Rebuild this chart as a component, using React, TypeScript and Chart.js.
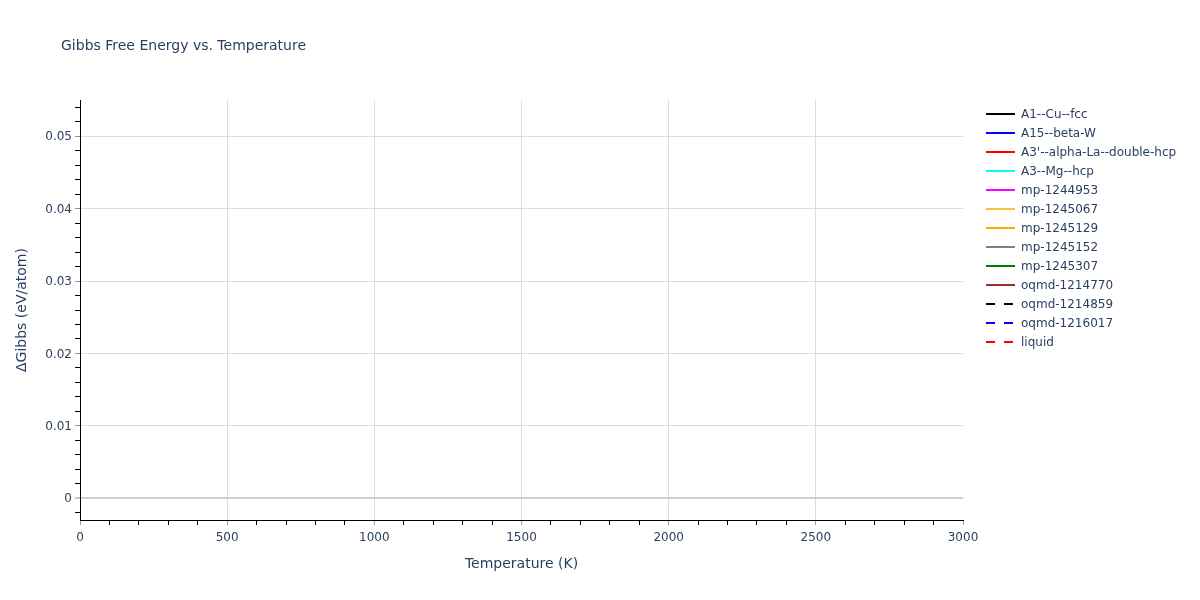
import React, { useEffect, useRef } from "react";
import { Chart, registerables, Plugin } from "chart.js";

Chart.register(...registerables);

// Phases shown in the legend. No curves are visible in the picture,
// so every series is empty.
const phaseNames = [
  "A1--Cu--fcc",
  "A15--beta-W",
  "A3'--alpha-La--double-hcp",
  "A3--Mg--hcp",
  "mp-1244953",
  "mp-1245067",
  "mp-1245129",
  "mp-1245152",
  "mp-1245307",
  "oqmd-1214770",
  "oqmd-1214859",
  "oqmd-1216017",
  "liquid",
];
const phaseColors = [
  "#000000",
  "#0000ff",
  "#ff0000",
  "#00ffff",
  "#ff00ff",
  "#f0c43c",
  "#ffa500",
  "#808080",
  "#008000",
  "#a52a2a",
  "#000000",
  "#0000ff",
  "#ff0000",
];
const phaseDashed = [false, false, false, false, false, false, false, false, false, false, true, true, true];

const temperatures: number[] = [];
const gibbsValues: number[][] = phaseNames.map(() => []);

const xMajorTicks = [0, 500, 1000, 1500, 2000, 2500, 3000];
const yMajorTicks = [0, 0.01, 0.02, 0.03, 0.04, 0.05];
const xMinorStep = 100;
const yMinorStep = 0.002;

const TEXT = "#2a3f5f";
const FONT = "'DejaVu Sans', Verdana, sans-serif";

const near = (a: number, b: number) => Math.abs(a - b) < 1e-9;
const isMajor = (v: number, list: number[]) => list.some((m) => near(m, v));

const titleLegendPlugin: Plugin = {
  id: "titleLegend",
  afterDraw(chart) {
    const ctx = chart.ctx;
    ctx.save();
    ctx.fillStyle = TEXT;
    ctx.textBaseline = "middle";
    ctx.textAlign = "left";
    ctx.font = `14px ${FONT}`;
    ctx.fillText("Gibbs Free Energy vs. Temperature", 61, 46);

    ctx.font = `12px ${FONT}`;
    chart.data.datasets.forEach((ds, i) => {
      const y = 114 + i * 19;
      ctx.beginPath();
      ctx.strokeStyle = ds.borderColor as string;
      ctx.lineWidth = 2;
      ctx.setLineDash(((ds as any).borderDash as number[]) || []);
      ctx.moveTo(986, y);
      ctx.lineTo(1015, y);
      ctx.stroke();
      ctx.setLineDash([]);
      ctx.fillStyle = TEXT;
      ctx.fillText(ds.label as string, 1021, y + 0.5);
    });
    ctx.restore();
  },
};

function GibbsChart() {
  const canvasRef = useRef<HTMLCanvasElement | null>(null);

  useEffect(() => {
    if (!canvasRef.current) return;

    const chart = new Chart(canvasRef.current, {
      type: "line",
      data: {
        labels: temperatures,
        datasets: phaseNames.map((name, i) => ({
          label: name,
          data: gibbsValues[i].map((g, j) => ({ x: temperatures[j], y: g })),
          borderColor: phaseColors[i],
          backgroundColor: phaseColors[i],
          borderWidth: 2,
          borderDash: phaseDashed[i] ? [9, 9] : [],
          pointRadius: 0,
          fill: false,
        })),
      },
      options: {
        animation: false,
        responsive: true,
        maintainAspectRatio: false,
        devicePixelRatio: 1,
        layout: { padding: { left: 8, top: 100, right: 237, bottom: 20 } },
        plugins: {
          legend: { display: false },
          title: { display: false },
          tooltip: { enabled: false },
        },
        scales: {
          x: {
            type: "linear",
            min: 0,
            max: 3000,
            afterFit: (scale) => {
              scale.height = 60;
            },
            afterBuildTicks: (scale) => {
              const ticks = [];
              for (let v = 0; v <= 3000; v += xMinorStep) ticks.push({ value: v });
              scale.ticks = ticks;
            },
            ticks: {
              autoSkip: false,
              maxRotation: 0,
              padding: 6,
              color: TEXT,
              font: { family: FONT, size: 12 },
              callback: (v) => (isMajor(Number(v), xMajorTicks) ? String(v) : ""),
            },
            grid: {
              drawTicks: true,
              tickLength: 5,
              color: (c) => {
                const v = c.tick?.value ?? 0;
                return isMajor(v, xMajorTicks) && v > 0 && v < 3000 ? "#dcdcdc" : "rgba(0,0,0,0)";
              },
              tickColor: (c) => (isMajor(c.tick?.value ?? 0, xMajorTicks) ? "#a0a0a0" : "#000000"),
            },
            border: { display: true, color: "#000000", width: 1 },
            title: {
              display: true,
              text: "Temperature (K)",
              color: TEXT,
              font: { family: FONT, size: 14 },
              padding: { top: 0, bottom: 7 },
            },
          },
          y: {
            type: "linear",
            min: -0.003,
            max: 0.055,
            afterFit: (scale) => {
              scale.width = 72;
            },
            afterBuildTicks: (scale) => {
              const ticks = [];
              for (let k = -1; k <= 27; k++) ticks.push({ value: Number((k * yMinorStep).toFixed(4)) });
              scale.ticks = ticks;
            },
            ticks: {
              autoSkip: false,
              padding: 3,
              labelOffset: 1,
              color: TEXT,
              font: { family: FONT, size: 12 },
              callback: (v) =>
                isMajor(Number(v), yMajorTicks) ? String(Number(Number(v).toFixed(3))) : "",
            },
            grid: {
              drawTicks: true,
              tickLength: 5,
              color: (c) => {
                const v = c.tick?.value ?? 1;
                if (near(v, 0)) return "#d0d0d0";
                return isMajor(v, yMajorTicks) ? "#dcdcdc" : "rgba(0,0,0,0)";
              },
              lineWidth: (c) => (near(c.tick?.value ?? 1, 0) ? 2 : 1),
              tickColor: (c) => (isMajor(c.tick?.value ?? 1, yMajorTicks) ? "#909090" : "#000000"),
              tickWidth: 1,
            },
            border: { display: true, color: "#000000", width: 1 },
            title: {
              display: true,
              text: "ΔGibbs (eV/atom)",
              color: TEXT,
              font: { family: FONT, size: 14 },
              padding: { top: 6, bottom: 0 },
            },
          },
        },
      },
      plugins: [titleLegendPlugin],
    });

    return () => {
      chart.destroy();
    };
  }, []);

  return (
    <div style={{ position: "fixed", left: 0, top: 0, width: 1200, height: 600, background: "#fff" }}>
      <canvas ref={canvasRef}></canvas>
    </div>
  );
}

export default function App() {
  return <GibbsChart />;
}
